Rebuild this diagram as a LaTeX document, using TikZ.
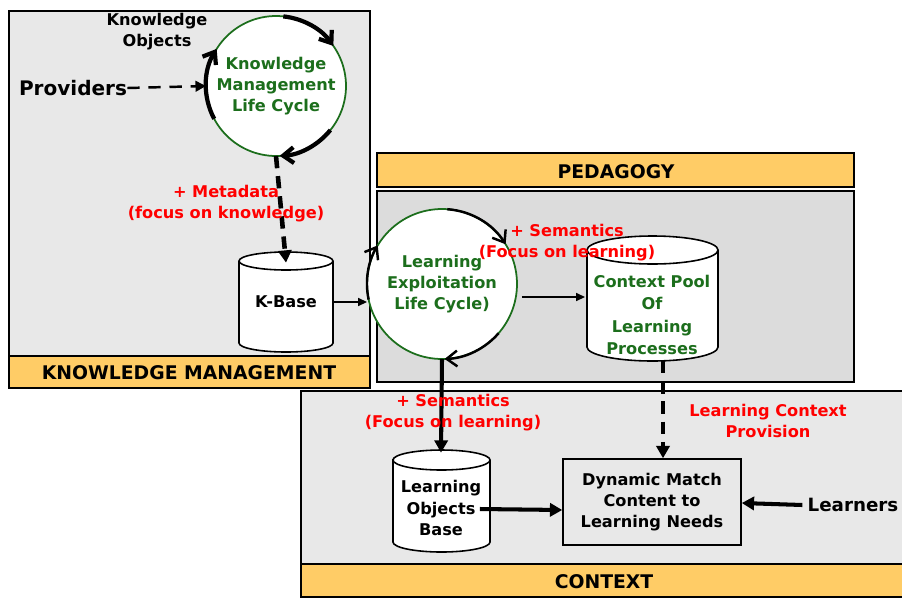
\documentclass[tikz,border=0pt]{standalone}
\usepackage{fontspec}
\setmainfont{DejaVu Sans}
\usetikzlibrary{arrows.meta}
\definecolor{kmgrey}{HTML}{E8E8E8}
\definecolor{pedgrey}{HTML}{DCDCDC}
\definecolor{band}{HTML}{FFCC66}
\definecolor{cyclegreen}{HTML}{1C6E1C}
% cylinder outline: left, right, top, bottom, ellipse radius
\newcommand{\drumshape}[5]{%
  \draw[drumline] (#1,#3-#5) -- (#1,#4+#5)
    arc[start angle=180, end angle=360, x radius={(#2-#1)/2}, y radius=#5]
    -- (#2,#3-#5)
    arc[start angle=0, end angle=180, x radius={(#2-#1)/2}, y radius=#5] -- cycle;
  \draw[drumline] (#1,#3-#5)
    arc[start angle=180, end angle=360, x radius={(#2-#1)/2}, y radius=#5];
}
\tikzset{
  txt/.style={font=\bfseries\fontsize{9.2}{12}\selectfont, align=center, inner sep=0pt},
  note/.style={txt, text=red},
  head/.style={font=\bfseries\fontsize{10.7}{13}\selectfont, inner sep=0pt},
  big/.style={font=\bfseries\fontsize{11.4}{14}\selectfont, inner sep=0pt},
  panel/.style={draw, line width=1pt},
  cyc/.style={txt, text=cyclegreen, circle, draw=cyclegreen, line width=1pt, fill=white, outer sep=0pt, minimum size=#1},
  drumline/.style={draw, line width=0.9pt, fill=white},
  cycarc/.style={line width=#1, -{Straight Barb[length=6pt,width=9pt]}},
  thin/.style={line width=0.8pt, -{Triangle[length=5pt,width=4.5pt]}},
  heavy/.style={line width=2.3pt, -{Triangle[length=7pt,width=7.5pt]}},
  dashheavy/.style={heavy, line width=2.6pt, dash pattern=on 7pt off 4.5pt},
}
\begin{document}
\begin{tikzpicture}[x=0.02cm, y=0.02cm]
\useasboundingbox (0,0) rectangle (902,-599);
% Knowledge management panel
\draw[panel, fill=kmgrey] (9,-11) rectangle (370,-388);
\draw[panel, fill=band] (9,-356) rectangle (370,-388);
\node[head] (kmhead) at (189,-373) {KNOWLEDGE MANAGEMENT};
% Pedagogy panel
\draw[panel, fill=band] (377,-153) rectangle (854,-187);
\node[head] (pedhead) at (616,-172) {PEDAGOGY};
\draw[panel, fill=pedgrey] (377,-191) rectangle (854,-382);
% Context panel
\draw[panel, fill=kmgrey] (301,-391) rectangle (903,-597);
\draw[panel, fill=band] (301,-564) rectangle (903,-597);
\node[head] (cxhead) at (604,-582) {CONTEXT};

% Knowledge management life cycle
\node[cyc=2.8cm] (kmlc) at (276,-86) {Knowledge\\Management\\Life Cycle};
\draw[cycarc=2.4pt] (kmlc.84) arc (84:35:70);
\draw[cycarc=2.4pt] (kmlc.208) arc (208:148:70);
\draw[cycarc=2.4pt] (kmlc.-39) arc (-39:-87:70);
\node[txt] (kobj) at (157,-32) {Knowledge\\Objects};
\node[big] (providers) at (73,-88) {Providers};
\draw[line width=1.4pt, dash pattern=on 7pt off 5pt, -{Triangle[length=6pt,width=6pt]}] (providers.east) -- (kmlc.west);

% K-Base
\drumshape{239}{333}{-252}{-352}{9}
\node[txt, minimum width=1.88cm, minimum height=2cm] (kbase) at (286,-302) {K-Base};
\draw[dashheavy] (kmlc.south) -- ([yshift=-0.22cm]kbase.north);
\node[note] (meta) at (226,-204) {+ Metadata\\(focus on knowledge)};

% Learning exploitation life cycle
\node[cyc=3cm] (lelc) at (442,-284) {Learning\\Exploitation\\Life Cycle)};
\draw[cycarc=1.4pt] (lelc.86) arc (86:32:75);
\draw[cycarc=1.4pt] (lelc.192) arc (192:149:75);
\draw[cycarc=1.4pt] (lelc.-41) arc (-41:-88:75);
\draw[thin] (kbase.east) -- (kbase.east -| lelc.west);

% Context pool
\drumshape{587}{718}{-236}{-361}{14}
\node[txt, text=cyclegreen, font=\bfseries\fontsize{9.2}{12.6}\selectfont, minimum width=2.62cm, minimum height=2.5cm] (cpool) at (652,-315) {Context Pool\\Of\\Learning\\Processes};
\draw[thin] ([xshift=0.1cm]lelc.east |- 0,-297) -- (585,-297);
\node[note] (sem1) at (567,-243) {+ Semantics\\(Focus on learning)};

% Learning objects base
\drumshape{393}{490}{-450}{-552}{10}
\node[txt, minimum width=1.94cm, minimum height=2.04cm] (lobase) at (441,-501) {};
\node[txt] (lobasetxt) at (441,-508) {Learning\\Objects\\Base};
\draw[heavy] (lelc.south) -- ([yshift=-0.06cm]lobase.north);
\node[note] (sem2) at (453,-413) {+ Semantics\\(Focus on learning)};

% Dynamic match
\node[txt, draw, line width=0.9pt, minimum width=3.56cm, minimum height=1.72cm] (match) at (652,-502) {Dynamic Match\\Content to\\Learning Needs};
\draw[dashheavy] (663,-361) -- (match.north -| 663,0);
\node[note] (lcprov) at (768,-421) {Learning Context\\Provision};
\draw[heavy] ([xshift=-0.2cm,yshift=-0.16cm]lobase.east) -- ([yshift=-0.16cm]match.west);
\node[big, font=\bfseries\fontsize{10.4}{13}\selectfont] (learners) at (853,-505) {Learners};
\draw[heavy] ([xshift=-0.1cm]learners.west) -- ([yshift=-0.02cm]match.east);
\end{tikzpicture}
\end{document}
